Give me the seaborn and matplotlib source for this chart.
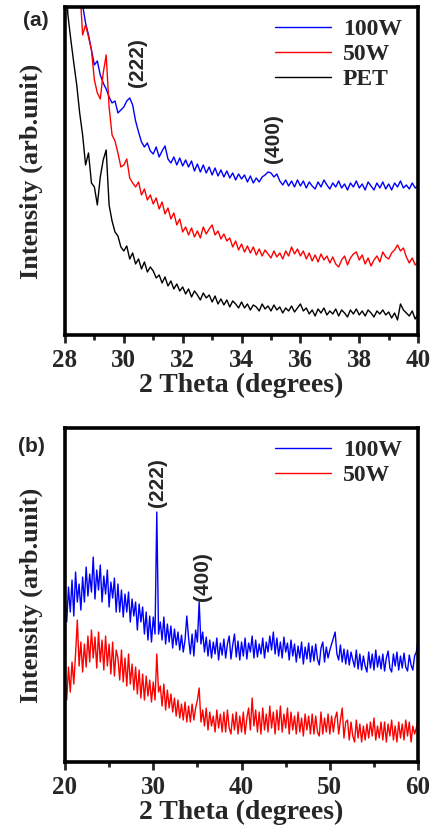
import numpy as np
import pandas as pd
import matplotlib
matplotlib.use("Agg")
import matplotlib.pyplot as plt
import seaborn as sns

# panel (a): 28-40 deg, step 0.1 (intensity in arbitrary units)
a_pet = [370, 320, 295, 272, 250, 222, 200, 170, 182, 152,
         148, 130, 158, 175, 185, 130, 114, 103, 99, 88,
         84, 89, 76, 82, 71, 76, 66, 73, 63, 68,
         64, 57, 60, 52, 58, 49, 54, 46, 51, 44,
         48, 41, 46, 38, 44, 40, 35, 42, 37, 40,
         33, 39, 31, 36, 30, 35, 28, 34, 31, 27,
         33, 27, 31, 25, 30, 28, 24, 31, 26, 29,
         24, 30, 25, 28, 22, 27, 24, 29, 23, 27,
         31, 24, 27, 21, 25, 19, 26, 22, 27, 20,
         24, 21, 26, 19, 25, 22, 18, 25, 21, 26,
         20, 24, 19, 25, 22, 18, 24, 21, 25, 20,
         23, 17, 22, 15, 31, 25, 22, 19, 24, 16,
         21]
a_50w = [400, 395, 390, 385, 375, 350, 300, 310, 298, 285,
         255, 242, 236, 262, 280, 228, 200, 194, 182, 168,
         170, 176, 157, 152, 148, 153, 140, 146, 135, 140,
         131, 137, 126, 133, 121, 127, 116, 122, 110, 116,
         103, 108, 100, 107, 98, 104, 97, 108, 101, 106,
         110, 100, 104, 96, 101, 94, 97, 88, 94, 85,
         91, 83, 89, 82, 88, 80, 86, 79, 85, 81,
         77, 84, 78, 82, 76, 84, 79, 88, 81, 86,
         79, 84, 76, 82, 74, 80, 73, 81, 75, 79,
         72, 78, 71, 68, 75, 79, 70, 77, 81, 83,
         75, 80, 71, 77, 69, 75, 79, 73, 83, 78,
         76, 82, 85, 90, 84, 87, 78, 72, 77, 70,
         73]
a_100w = [420, 410, 400, 390, 370, 350, 330, 312, 300, 285,
          270, 274, 260, 252, 246, 238, 232, 234, 222, 225,
          228, 234, 237, 230, 214, 203, 193, 188, 192, 184,
          181, 188, 178, 184, 189, 176, 172, 178, 170, 177,
          169, 175, 168, 174, 164, 171, 163, 170, 162, 168,
          160, 167, 159, 165, 158, 164, 157, 162, 155, 161,
          156, 160, 153, 159, 152, 157, 153, 158, 160, 163,
          162, 158, 161, 154, 150, 155, 149, 154, 148, 155,
          149, 154, 147, 153, 149, 146, 153, 148, 155, 150,
          146, 152, 148, 154, 147, 151, 145, 152, 148, 154,
          147, 151, 145, 153, 149, 145, 152, 147, 153, 146,
          151, 145, 152, 148, 154, 147, 150, 146, 152, 147,
          149]

# panel (b): 20-60 deg, step 0.2
b_100w = [168, 140, 175, 150, 182, 146, 190, 160, 178, 152,
          185, 160, 195, 166, 188, 170, 205, 163, 192, 172,
          197, 160, 186, 168, 192, 155, 180, 164, 184, 150,
          178, 150, 172, 145, 168, 150, 170, 140, 163, 146,
          160, 132, 158, 140, 155, 128, 150, 122, 146, 120,
          145, 128, 250, 128, 140, 122, 145, 118, 138, 120,
          136, 114, 133, 117, 130, 112, 127, 110, 122, 146,
          124, 108, 128, 106, 132, 120, 160, 118, 130, 110,
          125, 106, 122, 104, 120, 108, 124, 102, 119, 107,
          123, 104, 118, 126, 103, 117, 128, 105, 121, 102,
          120, 106, 124, 103, 119, 110, 126, 104, 122, 105,
          118, 108, 124, 104, 120, 110, 126, 112, 130, 108,
          124, 106, 120, 104, 125, 110, 119, 102, 122, 106,
          118, 100, 116, 104, 120, 98, 115, 103, 119, 100,
          116, 101, 118, 103, 97, 114, 120, 100, 115, 104,
          112, 118, 124, 130, 108, 102, 117, 100, 113, 98,
          112, 97, 110, 102, 95, 112, 93, 108, 92, 106,
          96, 90, 110, 94, 108, 92, 112, 95, 106, 93,
          108, 91, 104, 111, 94, 90, 108, 96, 110, 92,
          106, 94, 109, 95, 91, 107, 97, 92, 106, 110,
          122]
b_50w = [85, 62, 95, 70, 100, 78, 108, 142, 96, 120,
         90, 118, 95, 126, 100, 132, 104, 125, 94, 130,
         100, 122, 92, 126, 96, 118, 88, 120, 86, 112,
         104, 82, 112, 80, 104, 76, 108, 78, 98, 72,
         95, 68, 92, 64, 88, 62, 86, 66, 82, 60,
         80, 62, 108, 70, 76, 56, 78, 52, 72, 54,
         68, 50, 64, 46, 62, 44, 58, 42, 60, 40,
         56, 40, 58, 42, 54, 62, 74, 40, 52, 36,
         54, 32, 50, 36, 46, 30, 52, 34, 48, 30,
         50, 30, 52, 34, 28, 48, 32, 50, 28, 46,
         30, 50, 28, 44, 54, 32, 64, 36, 52, 30,
         50, 28, 54, 32, 48, 30, 56, 34, 50, 28,
         52, 32, 56, 30, 48, 34, 54, 28, 50, 32,
         46, 28, 50, 30, 44, 26, 48, 32, 46, 28,
         48, 28, 46, 30, 26, 50, 28, 44, 30, 48,
         28, 46, 30, 44, 50, 28, 42, 54, 24, 40,
         42, 22, 40, 26, 20, 42, 24, 38, 20, 36,
         22, 38, 24, 40, 26, 44, 22, 36, 24, 40,
         22, 40, 20, 38, 26, 42, 22, 36, 20, 40,
         24, 38, 22, 42, 26, 40, 20, 36, 28, 34,
         44]

sns.set_style("ticks")
plt.rcParams["font.family"] = ["Liberation Serif", "DejaVu Serif"]
plt.rcParams["font.weight"] = "bold"
plt.rcParams["axes.labelweight"] = "bold"

fig = plt.figure(figsize=(4.36, 8.31), dpi=100)
ax1 = fig.add_axes([0.149, 0.5969, 0.810, 0.3947])
ax2 = fig.add_axes([0.149, 0.0830, 0.810, 0.4019])


def draw(ax, series, xlim, ylim, major, minor):
    for ys, col, lab in series:
        x = np.linspace(xlim[0], xlim[1], len(ys))
        sns.lineplot(x=x, y=ys, color=col, lw=1.0, label=lab, ax=ax)
    ax.set_xlim(*xlim)
    ax.set_ylim(*ylim)
    ax.set_xticks(major)
    ax.set_xticks(minor, minor=True)
    ax.set_yticks([])
    ax.tick_params(axis="x", which="major", direction="out", length=6, width=2,
                   labelsize=18, pad=4)
    ax.tick_params(axis="x", which="minor", direction="out", length=3.5, width=2)
    for s in ax.spines.values():
        s.set_linewidth(2.6)
        s.set_color("black")
    ax.set_xlabel("2 Theta (degrees)", fontsize=20, labelpad=1)
    ax.set_ylabel("Intensity (arb.unit)", fontsize=19, labelpad=16)
    leg = ax.legend(loc="upper left", bbox_to_anchor=(0.56, 1.0), frameon=False,
                    fontsize=17, handlelength=2.4, labelspacing=0.15,
                    handletextpad=0.5, borderaxespad=0.1)
    for t in leg.get_texts():
        t.set_fontweight("bold")


draw(ax1, [(a_100w, "#0000ff", "100W"), (a_50w, "#ff0000", "50W"),
           (a_pet, "black", "PET")],
     (28, 40), (0, 328), list(range(28, 41, 2)), list(range(29, 40, 2)))
draw(ax2, [(b_100w, "#0000ff", "100W"), (b_50w, "#ff0000", "50W")],
     (20, 60), (0, 334), list(range(20, 61, 10)), list(range(25, 60, 10)))

sans = ["Liberation Sans", "DejaVu Sans"]
ax1.text(30.45, 272, "(222)", rotation=90, ha="center", va="center",
         fontsize=15, fontweight="bold", family=sans)
ax1.text(35.1, 196, "(400)", rotation=90, ha="center", va="center",
         fontsize=15, fontweight="bold", family=sans)
ax2.text(30.5, 279, "(222)", rotation=90, ha="center", va="center",
         fontsize=15, fontweight="bold", family=sans)
ax2.text(35.6, 185, "(400)", rotation=90, ha="center", va="center",
         fontsize=15, fontweight="bold", family=sans)

fig.text(36 / 436, 1 - 20 / 831, "(a)", ha="center", va="center",
         fontsize=15, fontweight="bold", family=sans)
fig.text(31 / 436, 1 - 446 / 831, "(b)", ha="center", va="center",
         fontsize=15, fontweight="bold", family=sans)

fig.savefig("out.png", dpi=100)
